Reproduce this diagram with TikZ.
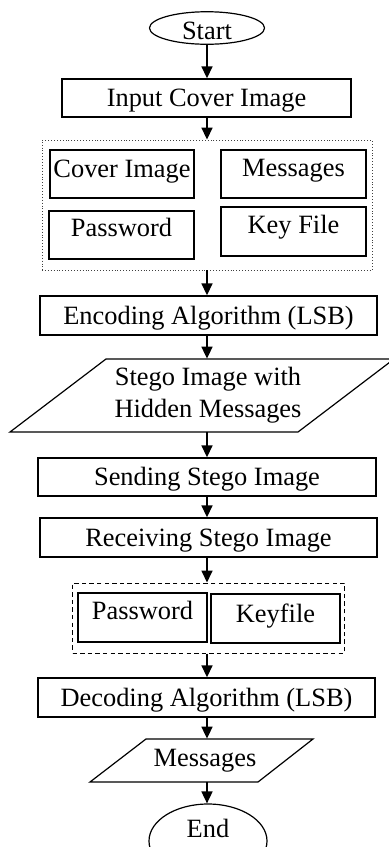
\documentclass[tikz,border=0pt]{standalone}
\usepackage{fontspec}
\setmainfont{Liberation Serif}
\usetikzlibrary{shapes.geometric,arrows.meta}
\tikzset{
  box/.style={draw, line width=0.7pt, inner sep=0pt, text height=8.5pt, text depth=0pt},
  term/.style={draw, ellipse, line width=0.6pt, inner sep=0pt},
  grpdot/.style={draw=black!75, densely dotted, line width=0.45pt, inner sep=0pt},
  grpdash/.style={draw, dash pattern=on 2.2pt off 1.6pt, line width=0.5pt, inner sep=0pt},
  arr/.style={line width=0.85pt, -{Triangle[width=5.5pt,length=6pt]}},
  io/.style={line width=0.6pt},
}
\begin{document}
\begin{tikzpicture}[x=0.5pt,y=-0.5pt,font=\fontsize{13.2pt}{16pt}\selectfont]
\useasboundingbox (0,0) rectangle (389,847);

\node[term, minimum width=57.5pt, minimum height=16pt, text height=11.5pt, text depth=0pt] (start) at (207,28) {Start};
\node[box, minimum width=144.5pt, minimum height=19pt] (input) at (206.5,98) {Input Cover Image};

\node[grpdot, minimum width=165pt, minimum height=65pt] (grp1) at (207,205) {};
\node[box, minimum width=72pt, minimum height=24pt, text depth=5pt] (cover) at (122,174) {Cover Image};
\node[box, minimum width=72.5pt, minimum height=24pt, text depth=6pt] (msg1) at (293.5,174) {Messages};
\node[box, minimum width=72.5pt, minimum height=24pt, text depth=7pt] (pass1) at (121.5,235) {Password};
\node[box, minimum width=72.5pt, minimum height=24.5pt, text depth=6.5pt] (key1) at (293.5,231.5) {Key File};

\node[box, minimum width=168.5pt, minimum height=19.5pt] (enc) at (208.5,315.5) {Encoding Algorithm (LSB)};

\node[inner sep=0pt, minimum height=36.5pt, align=center] (stego) at (208,395.5) {Stego Image with\\Hidden Messages};
\draw[io] (106,359) -- (394,359) -- (298,432) -- (10,432) -- cycle;

\node[box, minimum width=169pt, minimum height=19pt] (send) at (207,477) {Sending Stego Image};
\node[box, minimum width=168.5pt, minimum height=19.5pt] (recv) at (208.5,537.5) {Receiving Stego Image};

\node[grpdash, minimum width=136pt, minimum height=35pt] (grp2) at (208.5,618) {};
\node[box, minimum width=64.5pt, minimum height=24.5pt, text depth=7pt] (pass2) at (142.5,617.5) {Password};
\node[box, minimum width=64.5pt, minimum height=24.5pt, text depth=5pt] (key2) at (275.5,618.5) {Keyfile};

\node[box, minimum width=168.5pt, minimum height=19.5pt] (dec) at (206.5,697.5) {Decoding Algorithm (LSB)};

\node[inner sep=0pt, minimum height=21.5pt] (msg2) at (205,760.5) {Messages};
\draw[io] (146,739) -- (313,739) -- (258,782) -- (90,782) -- cycle;

\node[term, minimum width=59pt, minimum height=37pt, text height=8.5pt, text depth=12pt] (end) at (208,841) {End};

\draw[arr] (start.south) -- (start.south |- input.north);
\draw[arr] (input.south -| start.south) -- (start.south |- grp1.north);
\draw[arr] (grp1.south -| start.south) -- (start.south |- enc.north);
\draw[arr] (enc.south -| start.south) -- (start.south |- stego.north);
\draw[arr] (stego.south -| start.south) -- (start.south |- send.north);
\draw[arr] (send.south -| start.south) -- (start.south |- recv.north);
\draw[arr] (recv.south -| start.south) -- (start.south |- grp2.north);
\draw[arr] (grp2.south -| start.south) -- (start.south |- dec.north);
\draw[arr] (dec.south -| start.south) -- (start.south |- msg2.north);
\draw[arr] (msg2.south -| start.south) -- (start.south |- end.north);
\end{tikzpicture}
\end{document}
